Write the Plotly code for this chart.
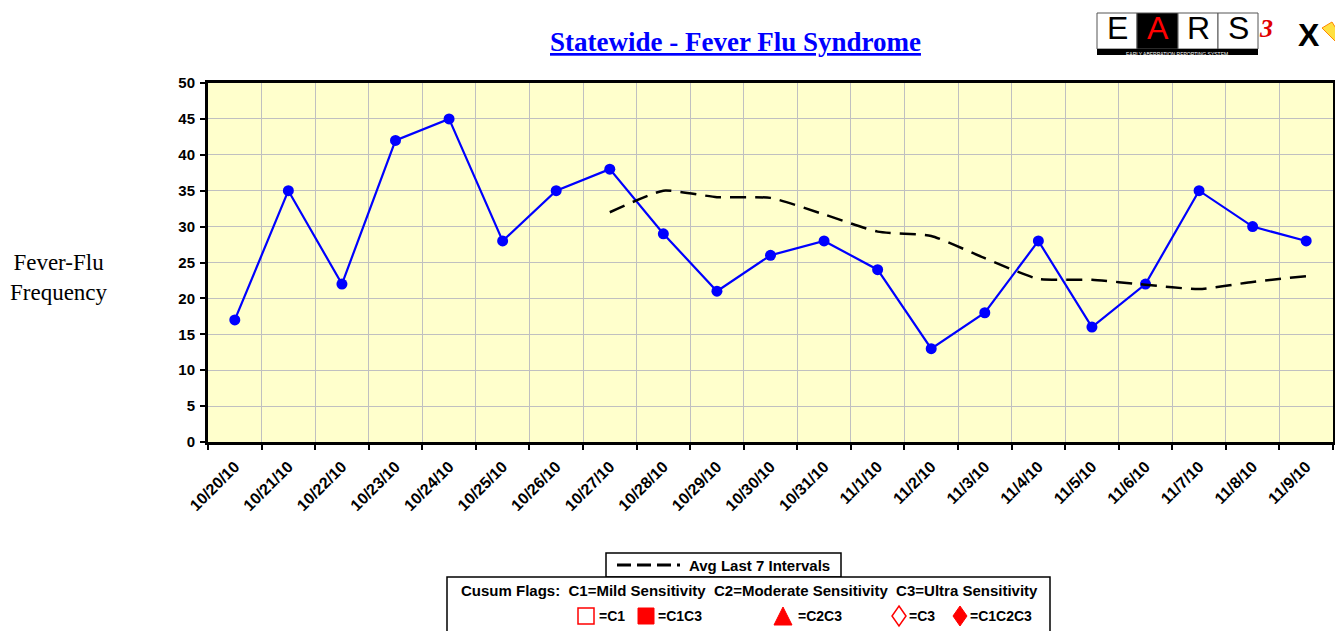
import plotly.graph_objects as go

dates = ["10/20/10", "10/21/10", "10/22/10", "10/23/10", "10/24/10", "10/25/10", "10/26/10",
         "10/27/10", "10/28/10", "10/29/10", "10/30/10", "10/31/10", "11/1/10", "11/2/10",
         "11/3/10", "11/4/10", "11/5/10", "11/6/10", "11/7/10", "11/8/10", "11/9/10"]
counts = [17, 35, 22, 42, 45, 28, 35, 38, 29, 21, 26, 28, 24, 13, 18, 28, 16, 22, 35, 30, 28]
avg_dates = dates[7:]
avg_last7 = [32.0, 35.0, 34.1, 34.0, 31.7, 29.3, 28.7, 25.6, 22.7, 22.6, 21.9, 21.3, 22.3, 23.1]
y_ticks = [0, 5, 10, 15, 20, 25, 30, 35, 40, 45, 50]

# page offset of the figure (body margin) is 8px
OFF = 8
PAGE_L, PAGE_T, PAGE_B = 208, 83, 442  # plot area in page pixels
W, H = 1343 - OFF, 631 - OFF
L, T = PAGE_L - OFF, PAGE_T - OFF
R = 10
PW = W - L - R
PH = PAGE_B - PAGE_T
B = H - T - PH


def px(x):
    return (x - PAGE_L) / PW


def py(y):
    return (PAGE_B - y) / PH


SANS = "Liberation Sans, Arial, sans-serif"
SERIF = "Liberation Serif, Times New Roman, serif"

fig = go.Figure()
fig.add_trace(go.Scatter(
    x=dates, y=counts, mode="lines+markers",
    line=dict(color="#0000FF", width=2.2),
    marker=dict(color="#0000FF", size=11, symbol="circle"),
    showlegend=False, hoverinfo="x+y"))
fig.add_trace(go.Scatter(
    x=avg_dates, y=avg_last7, mode="lines",
    line=dict(color="black", width=2.5, dash="16px,9px", shape="spline", smoothing=0.5),
    showlegend=False, hoverinfo="x+y"))

shapes = []
annotations = []

# title
annotations.append(dict(
    x=px(735), y=py(42), xref="paper", yref="paper", showarrow=False,
    text="<b><u>Statewide - Fever Flu Syndrome</u></b>",
    font=dict(family=SERIF, size=27, color="#0000FF"), xanchor="center", yanchor="middle"))

# y-axis title
annotations.append(dict(
    x=px(59), y=py(277), xref="paper", yref="paper", showarrow=False,
    text="Fever-Flu<br>Frequency", align="center",
    font=dict(family=SERIF, size=23, color="black"), xanchor="center", yanchor="middle"))

# Legend box 1
shapes.append(dict(type="rect", xref="paper", yref="paper",
                   x0=px(606), x1=px(841), y0=py(577), y1=py(553),
                   line=dict(color="black", width=1.5), fillcolor="white"))
shapes.append(dict(type="line", xref="paper", yref="paper",
                   x0=px(617), x1=px(680), y0=py(565), y1=py(565),
                   line=dict(color="black", width=3, dash="14px,6px")))
annotations.append(dict(x=px(687), y=py(565), xref="paper", yref="paper", showarrow=False,
                        text="<b>Avg Last 7 Intervals</b>", xanchor="left", yanchor="middle",
                        font=dict(family=SANS, size=15, color="black")))

# Legend box 2
shapes.append(dict(type="rect", xref="paper", yref="paper",
                   x0=px(447), x1=px(1050), y0=py(645), y1=py(577),
                   line=dict(color="black", width=1.5), fillcolor="white"))
annotations.append(dict(x=px(749), y=py(590), xref="paper", yref="paper", showarrow=False,
                        text="<b>Cusum Flags:  C1=Mild Sensitivity  C2=Moderate Sensitivity  C3=Ultra Sensitivity</b>",
                        xanchor="center", yanchor="middle",
                        font=dict(family=SANS, size=15, color="black")))

RED = "#FF0000"
my = 616
# open square
shapes.append(dict(type="rect", xref="paper", yref="paper",
                   x0=px(578), x1=px(594), y0=py(my + 8), y1=py(my - 8),
                   line=dict(color=RED, width=1.5), fillcolor="white"))
# filled square
shapes.append(dict(type="rect", xref="paper", yref="paper",
                   x0=px(638), x1=px(654), y0=py(my + 8), y1=py(my - 8),
                   line=dict(color=RED, width=1), fillcolor=RED))


def path(points):
    return "M " + " L ".join(f"{px(a):.5f},{py(b):.5f}" for a, b in points) + " Z"


# triangle
shapes.append(dict(type="path", xref="paper", yref="paper",
                   path=path([(774, my + 9), (792, my + 9), (783, my - 9)]),
                   line=dict(color=RED, width=1), fillcolor=RED))
# open diamond
shapes.append(dict(type="path", xref="paper", yref="paper",
                   path=path([(899, my - 10), (906, my), (899, my + 10), (892, my)]),
                   line=dict(color=RED, width=1.5), fillcolor="white"))
# filled diamond
shapes.append(dict(type="path", xref="paper", yref="paper",
                   path=path([(960, my - 10), (967, my), (960, my + 10), (953, my)]),
                   line=dict(color=RED, width=1), fillcolor=RED))
for xx, t in [(597, "=C1"), (656, "=C1C3"), (796, "=C2C3"), (907, "=C3"), (968, "=C1C2C3")]:
    annotations.append(dict(x=px(xx), y=py(my), xref="paper", yref="paper", showarrow=False,
                            text=f"<b>{t}</b>", xanchor="left", yanchor="middle",
                            font=dict(family=SANS, size=14, color="black")))

# EARS logo approximation
letters = [("E", 1097, 1137, "white", "black"), ("A", 1137, 1178, "black", "#FF0000"),
           ("R", 1178, 1218, "white", "black"), ("S", 1218, 1258, "white", "black")]
for ch, x0, x1, bg, fg in letters:
    shapes.append(dict(type="rect", xref="paper", yref="paper",
                       x0=px(x0), x1=px(x1), y0=py(49), y1=py(13),
                       line=dict(color="#555555", width=1), fillcolor=bg))
    annotations.append(dict(x=px((x0 + x1) / 2), y=py(48.5), xref="paper", yref="paper",
                            showarrow=False, text=ch, xanchor="center", yanchor="bottom",
                            font=dict(family=SANS, size=32, color=fg)))
shapes.append(dict(type="rect", xref="paper", yref="paper",
                   x0=px(1097), x1=px(1258), y0=py(55), y1=py(49),
                   line=dict(width=0), fillcolor="black"))
annotations.append(dict(x=px(1177), y=py(49.5), xref="paper", yref="paper", showarrow=False,
                        text="EARLY ABERRATION REPORTING SYSTEM", xanchor="center", yanchor="top",
                        borderpad=0,
                        font=dict(family=SANS, size=5, color="white")))
annotations.append(dict(x=px(1266), y=py(28), xref="paper", yref="paper", showarrow=False,
                        text="<i><b>3</b></i>", xanchor="center", yanchor="middle",
                        font=dict(family=SERIF, size=26, color="#E00000")))
annotations.append(dict(x=px(1309), y=py(35), xref="paper", yref="paper", showarrow=False,
                        text="<b>X</b>", xanchor="center", yanchor="middle",
                        font=dict(family=SANS, size=32, color="black")))
shapes.append(dict(type="path", xref="paper", yref="paper",
                   path=path([(1322, 28), (1332, 22), (1342, 38), (1342, 48)]),
                   line=dict(color="#FF8800", width=1), fillcolor="#FFE040"))

fig.update_layout(
    width=W, height=H,
    margin=dict(l=L, r=R, t=T, b=B, autoexpand=False),
    paper_bgcolor="white", plot_bgcolor="#FFFFCC",
    shapes=shapes, annotations=annotations,
    showlegend=False,
    xaxis=dict(
        type="category", categoryorder="array", categoryarray=dates,
        range=[-0.5, len(dates) - 0.5], tickson="boundaries",
        showgrid=True, gridcolor="#C0C0C0", gridwidth=1,
        ticks="outside", ticklen=5, tickcolor="black", tickwidth=1.5,
        ticklabelstandoff=6,
        tickangle=-45, tickfont=dict(family=SANS, size=16, color="black", weight="bold"),
        showline=True, linecolor="black", linewidth=3, mirror=True, zeroline=False),
    yaxis=dict(
        range=[0, 50], tickvals=y_ticks, ticktext=[str(v) for v in y_ticks],
        showgrid=True, gridcolor="#C0C0C0", gridwidth=1,
        ticks="outside", ticklen=5, tickcolor="black", tickwidth=1.5,
        ticklabelstandoff=2,
        tickfont=dict(family=SANS, size=15, color="black", weight="bold"),
        showline=True, linecolor="black", linewidth=3, mirror=True, zeroline=False),
)

fig.write_html("out.html")
